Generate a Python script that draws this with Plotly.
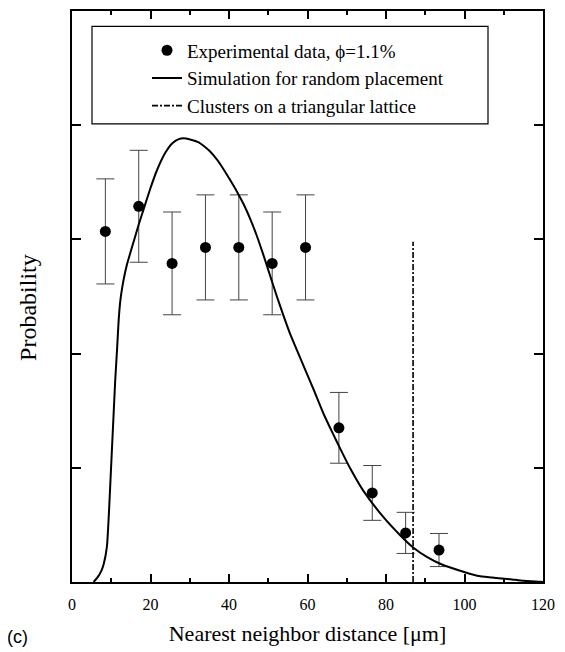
import plotly.graph_objects as go

# Experimental data
exp_x = [8.5, 17.0, 25.5, 34.0, 42.5, 51.0, 59.5, 68.0, 76.5, 85.0, 93.5]
exp_y = [3.07, 3.29, 2.79, 2.93, 2.93, 2.79, 2.93, 1.35, 0.78, 0.43, 0.28]
exp_err = [0.46, 0.49, 0.45, 0.46, 0.46, 0.45, 0.46, 0.31, 0.24, 0.18, 0.145]

# Simulation for random placement
sim_x = [5.5, 6.5, 7.5, 8.1, 8.9, 9.4, 9.8, 10.2, 10.6, 11.0, 11.5, 11.9, 12.3, 12.8,
         13.4, 14.0, 15.7, 17.0, 18.3, 20.0, 21.7, 23.8, 25.5, 27.2, 28.4, 30.1, 32.3,
         33.5, 35.2, 36.9, 38.6, 40.3, 42.0, 43.7, 45.4, 47.1, 48.8, 50.5, 52.2, 53.9,
         55.6, 57.3, 59.4, 61.5, 64.0, 66.6, 68.3, 70.8, 74.2, 79.3, 83.6, 87.0, 90.4,
         93.8, 99.7, 104.0, 108.2, 111.6, 115.0, 119.2, 120.0]
sim_y = [0.0, 0.04, 0.10, 0.16, 0.31, 0.60, 0.89, 1.18, 1.47, 1.76, 2.05, 2.30, 2.46, 2.58,
         2.69, 2.78, 2.98, 3.13, 3.27, 3.45, 3.61, 3.76, 3.84, 3.878, 3.885, 3.875, 3.85,
         3.82, 3.77, 3.70, 3.615, 3.52, 3.42, 3.31, 3.18, 3.03, 2.86, 2.68, 2.50, 2.33,
         2.17, 2.03, 1.86, 1.69, 1.48, 1.29, 1.17, 1.00, 0.80, 0.57, 0.41, 0.30, 0.22,
         0.16, 0.09, 0.05, 0.035, 0.025, 0.01, 0.002, 0.0]

# Clusters on a triangular lattice
lat_x = [86.9, 86.9]
lat_y = [0.0, 2.98]

x_ticks = [0, 20, 40, 60, 80, 100, 120]

names = ["Experimental data, \u03d5=1.1%",
         "Simulation for random placement",
         "Clusters on a triangular lattice"]

serif = "Liberation Serif, Times New Roman, serif"

fig = go.Figure()
fig.add_trace(go.Scatter(
    x=exp_x, y=exp_y, mode="markers", name=names[0],
    marker=dict(color="black", size=11),
    error_y=dict(type="data", array=exp_err, visible=True, color="#444444",
                 thickness=1, width=9)))
fig.add_trace(go.Scatter(
    x=sim_x, y=sim_y, mode="lines", name=names[1],
    line=dict(color="black", width=2, shape="spline", smoothing=0.5)))
fig.add_trace(go.Scatter(
    x=lat_x, y=lat_y, mode="lines", name=names[2],
    line=dict(color="black", width=1.6, dash="6px,2px,2px,2px")))

OFF = 8  # default page body margin
W, H = 565 - OFF, 652 - OFF
ml, mr, mt, mb = 64, 22, 0.5, 69.5
pw, ph = W - ml - mr, H - mt - mb

def px(xs):
    return (xs - OFF - ml) / pw

def py(ys):
    return 1 - (ys - OFF - mt) / ph

fig.update_layout(
    width=W, height=H,
    margin=dict(l=ml, r=mr, t=mt, b=mb),
    paper_bgcolor="white", plot_bgcolor="white",
    font=dict(family=serif, color="black", size=16),
    showlegend=True,
    legend=dict(x=px(147), y=py(29), xanchor="left", yanchor="top",
                bgcolor="rgba(0,0,0,0)", borderwidth=0,
                font=dict(family=serif, size=19, color="black"),
                tracegroupgap=0),
    xaxis=dict(range=[0, 120], tickvals=x_ticks, ticks="inside", ticklen=8,
               tickwidth=1.5, tickcolor="black", showline=True, linecolor="black",
               linewidth=2, mirror="ticks", showgrid=False, zeroline=False,
               ticklabelstandoff=7,
               tickfont=dict(family=serif, size=16, color="black"),
               minor=dict(dtick=10, ticks="inside", ticklen=4, tickwidth=1.5,
                          tickcolor="black", showgrid=False),
               title=dict(text="Nearest neighbor distance [\u03bcm]",
                          font=dict(family=serif, size=22, color="black"),
                          standoff=13)),
    yaxis=dict(range=[0, 5], dtick=1, ticks="inside", ticklen=9, tickwidth=1.5,
               tickcolor="black", showticklabels=False, showline=True,
               linecolor="black", linewidth=2, mirror="ticks", showgrid=False,
               zeroline=False),
    shapes=[dict(type="rect", xref="paper", yref="paper",
                 x0=px(92), x1=px(488), y0=py(122), y1=py(24),
                 line=dict(color="black", width=1.2))],
    annotations=[
        dict(text="Probability", xref="paper", yref="paper", x=px(28), y=py(307),
             xanchor="center", yanchor="middle", textangle=-90, showarrow=False,
             font=dict(family=serif, size=24, color="black")),
        dict(text="(c)", xref="paper", yref="paper", x=px(17), y=py(638),
             xanchor="center", yanchor="middle", showarrow=False,
             font=dict(family="Liberation Sans, Arial, sans-serif", size=18,
                       color="black")),
    ],
)

fig.write_html("out.html")
